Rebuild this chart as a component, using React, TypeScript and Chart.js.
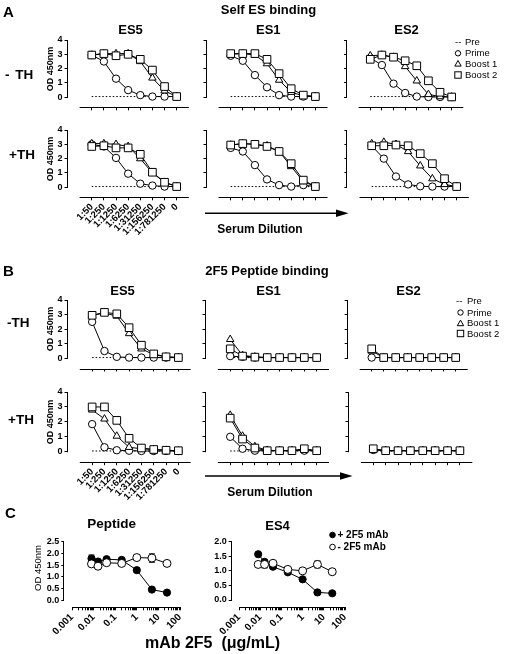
import React, { useEffect, useRef } from 'react';
import { Chart, registerables } from 'chart.js';

Chart.register(...registerables);

const FONT = '"Liberation Sans", Arial, Helvetica, sans-serif';
Chart.defaults.font.family = FONT;
Chart.defaults.color = '#000';

// ---------- Panels A & B : serum dilution series ----------
const dilutionLabels = ['1:50', '1:250', '1:1250', '1:6250', '1:31250', '1:156250', '1:781250', '0'];
const dilutionSteps = [0, 1, 2, 3, 4, 5, 6, 7];
const odTicks = [0, 1, 2, 3, 4];

const prePre = [0.05, 0.05, 0.05, 0.05, 0.05, 0.05, 0.05, 0.05];

// A: Self ES binding, -TH
const aNoTH_ES5_prime = [2.95, 2.5, 1.3, 0.5, 0.15, 0.05, 0.05, 0.05];
const aNoTH_ES5_boost1 = [2.95, 3.05, 3.05, 3.05, 2.5, 1.35, 0.45, 0.05];
const aNoTH_ES5_boost2 = [2.95, 3.05, 2.9, 3.0, 2.65, 1.9, 0.75, 0.05];
const aNoTH_ES1_prime = [2.9, 2.55, 1.55, 0.7, 0.15, 0.05, 0.05, 0.05];
const aNoTH_ES1_boost1 = [3.0, 3.05, 2.95, 2.35, 1.2, 0.35, 0.1, 0.05];
const aNoTH_ES1_boost2 = [3.05, 3.05, 3.05, 2.65, 1.65, 0.6, 0.15, 0.05];
const aNoTH_ES2_prime = [2.75, 2.25, 0.95, 0.3, 0.05, 0.02, 0.02, 0.02];
const aNoTH_ES2_boost1 = [2.9, 2.95, 2.8, 2.15, 1.15, 0.2, 0.05, 0.02];
const aNoTH_ES2_boost2 = [2.65, 2.95, 2.8, 2.55, 2.2, 1.15, 0.35, 0.02];

// A: Self ES binding, +TH
const aTH_ES5_prime = [3.0, 2.85, 2.05, 0.95, 0.25, 0.12, 0.05, 0.05];
const aTH_ES5_boost1 = [3.05, 3.05, 3.0, 2.85, 2.0, 1.0, 0.35, 0.05];
const aTH_ES5_boost2 = [2.85, 2.9, 2.75, 2.75, 2.3, 1.05, 0.35, 0.05];
const aTH_ES1_prime = [2.75, 2.5, 1.55, 0.55, 0.15, 0.05, 0.15, 0.05];
const aTH_ES1_boost1 = [2.95, 3.05, 3.0, 2.9, 2.5, 1.45, 0.4, 0.05];
const aTH_ES1_boost2 = [2.95, 3.05, 3.0, 2.85, 2.5, 1.65, 0.5, 0.05];
const aTH_ES2_prime = [2.9, 2.0, 0.75, 0.2, 0.07, 0.05, 0.05, 0.05];
const aTH_ES2_boost1 = [3.05, 3.15, 3.0, 2.5, 1.5, 0.6, 0.2, 0.05];
const aTH_ES2_boost2 = [2.9, 2.9, 2.95, 2.9, 2.35, 1.65, 0.6, 0.05];

// B: 2F5 peptide binding, -TH
const bNoTH_ES5_prime = [2.5, 0.5, 0.1, 0.05, 0.05, 0.05, 0.05, 0.05];
const bNoTH_ES5_boost1 = [2.95, 3.1, 2.9, 1.7, 0.65, 0.25, 0.1, 0.05];
const bNoTH_ES5_boost2 = [2.95, 3.15, 3.05, 2.1, 0.9, 0.3, 0.1, 0.05];
const bNoTH_ES1_prime = [0.15, 0.1, 0.05, 0.05, 0.05, 0.05, 0.05, 0.05];
const bNoTH_ES1_boost1 = [1.3, 0.2, 0.1, 0.05, 0.05, 0.05, 0.05, 0.05];
const bNoTH_ES1_boost2 = [0.65, 0.15, 0.08, 0.05, 0.05, 0.05, 0.05, 0.05];
const bNoTH_ES2_prime = [0.05, 0.05, 0.05, 0.05, 0.05, 0.05, 0.05, 0.05];
const bNoTH_ES2_boost1 = [0.5, 0.05, 0.05, 0.05, 0.05, 0.05, 0.05, 0.05];
const bNoTH_ES2_boost2 = [0.65, 0.05, 0.05, 0.05, 0.05, 0.05, 0.05, 0.05];

// B: 2F5 peptide binding, +TH
const bTH_ES5_prime = [1.85, 0.3, 0.1, 0.07, 0.05, 0.05, 0.05, 0.05];
const bTH_ES5_boost1 = [2.8, 2.2, 1.05, 0.3, 0.2, 0.15, 0.1, 0.05];
const bTH_ES5_boost2 = [3.0, 3.0, 2.1, 0.9, 0.25, 0.15, 0.1, 0.07];
const bTH_ES1_prime = [1.0, 0.2, 0.07, 0.07, 0.07, 0.07, 0.07, 0.07];
const bTH_ES1_boost1 = [2.45, 1.05, 0.35, 0.1, 0.07, 0.07, 0.15, 0.07];
const bTH_ES1_boost2 = [2.25, 0.85, 0.25, 0.07, 0.07, 0.07, 0.2, 0.07];
const bTH_ES2_prime = [0.12, 0.07, 0.07, 0.07, 0.07, 0.07, 0.07, 0.07];
const bTH_ES2_boost1 = [0.15, 0.07, 0.07, 0.07, 0.07, 0.07, 0.07, 0.07];
const bTH_ES2_boost2 = [0.2, 0.07, 0.07, 0.07, 0.07, 0.07, 0.07, 0.07];

// ---------- Panel C : mAb 2F5 competition ----------
const mabConc = [0.008, 0.016, 0.04, 0.2, 1, 5, 25];
const logMajor = [0.001, 0.01, 0.1, 1, 10, 100];
const logMinorMult = [2, 3, 4, 5, 6, 7, 8, 9];
const pepPlus = [1.78, 1.65, 1.75, 1.72, 1.28, 0.45, 0.32];
const pepPlusErr = [0.15, 0.1, 0.06, 0.06, 0.1, 0.05, 0.04];
const pepMinus = [1.55, 1.45, 1.6, 1.57, 1.82, 1.8, 1.57];
const pepMinusErr = [0.08, 0.06, 0.05, 0.05, 0.06, 0.18, 0.05];
const es4Plus = [1.57, 1.31, 1.14, 0.95, 0.71, 0.26, 0.23];
const es4PlusErr = [0.05, 0.06, 0.04, 0.03, 0.04, 0.03, 0.02];
const es4Minus = [1.22, 1.22, 1.26, 1.05, 1.0, 1.22, 0.97];
const es4MinusErr = [0.06, 0.12, 0.06, 0.05, 0.04, 0.12, 0.05];
const pepTicks = [0, 0.5, 1, 1.5, 2, 2.5];
const es4Ticks = [0, 0.5, 1, 1.5, 2];

type Geo = { l: number; r: number; t: number; b: number };

function axesPlugin(xFrom: number, xTo: number, yFrom: number, yTo: number) {
  return {
    id: 'offsetAxes',
    beforeDatasetsDraw(chart: any) {
      const { ctx, chartArea, scales } = chart;
      const xs = scales.x;
      const ys = scales.y;
      ctx.save();
      ctx.strokeStyle = '#000';
      ctx.lineWidth = 1;
      const lx = Math.round(chartArea.left) - 0.5;
      ctx.beginPath();
      ctx.moveTo(lx, ys.getPixelForValue(yTo));
      ctx.lineTo(lx, ys.getPixelForValue(yFrom) + 0.5);
      ctx.stroke();
      const by = Math.round(chartArea.bottom) + 0.5;
      ctx.beginPath();
      ctx.moveTo(xs.getPixelForValue(xFrom), by);
      ctx.lineTo(xs.getPixelForValue(xTo), by);
      ctx.stroke();
      ctx.restore();
    },
  };
}

function errorPlugin(errs: (number[] | null)[]) {
  return {
    id: 'errBars',
    beforeDatasetsDraw(chart: any) {
      const { ctx } = chart;
      const ys = chart.scales.y;
      ctx.save();
      ctx.strokeStyle = '#000';
      ctx.lineWidth = 1;
      chart.data.datasets.forEach((ds: any, di: number) => {
        const e = errs[di];
        if (!e) return;
        const meta = chart.getDatasetMeta(di);
        meta.data.forEach((pt: any, i: number) => {
          const v = ds.data[i].y;
          const yT = ys.getPixelForValue(v + e[i]);
          const yB = ys.getPixelForValue(v - e[i]);
          const x = pt.x;
          ctx.beginPath();
          ctx.moveTo(x, yT);
          ctx.lineTo(x, yB);
          ctx.moveTo(x - 3, yT);
          ctx.lineTo(x + 3, yT);
          ctx.moveTo(x - 3, yB);
          ctx.lineTo(x + 3, yB);
          ctx.stroke();
        });
      });
      ctx.restore();
    },
  };
}

function canvasBox(geo: Geo) {
  const cl = Math.floor(geo.l) - 45;
  const ct = Math.floor(geo.t) - 12;
  const cr = Math.ceil(geo.r) + 12;
  const cb = Math.ceil(geo.b) + 50;
  return {
    cl, ct, w: cr - cl, h: cb - ct,
    yW: geo.l - cl, padTop: geo.t - ct, padRight: cr - geo.r, xH: cb - geo.b,
  };
}

const gridOpts = {
  display: true,
  drawOnChartArea: false,
  drawTicks: true,
  tickLength: 3,
  color: '#000',
  tickColor: '#000',
  lineWidth: 1,
};

interface DilProps {
  geo: Geo;
  prime: number[];
  boost1: number[];
  boost2: number[];
  pre: number[];
  showY: boolean;
  showX: boolean;
}

function DilutionChart({ geo, prime, boost1, boost2, pre, showY, showX }: DilProps) {
  const ref = useRef<HTMLCanvasElement>(null);
  const box = canvasBox(geo);
  useEffect(() => {
    const pts = (arr: number[]) => arr.map((v, i) => ({ x: dilutionSteps[i], y: v }));
    const base = {
      borderColor: '#000', borderWidth: 1, pointBorderColor: '#000',
      pointBackgroundColor: '#fff', pointBorderWidth: 1, tension: 0, fill: false,
    };
    const chart = new Chart(ref.current as HTMLCanvasElement, {
      type: 'line',
      data: {
        datasets: [
          { ...base, label: 'Boost 2', data: pts(boost2), pointStyle: 'rect', pointRadius: 5.4 },
          { ...base, label: 'Boost 1', data: pts(boost1), pointStyle: 'triangle', pointRadius: 4.3 },
          { ...base, label: 'Prime', data: pts(prime), pointStyle: 'circle', pointRadius: 3.7 },
          { ...base, label: 'Pre', data: pts(pre), pointRadius: 0, borderDash: [1.5, 2] },
        ],
      } as any,
      options: {
        responsive: false,
        animation: false,
        events: [],
        layout: { padding: { left: 0, top: box.padTop, right: box.padRight, bottom: 0 } },
        plugins: { legend: { display: false }, tooltip: { enabled: false } },
        scales: {
          x: {
            type: 'linear', min: -2, max: 8,
            border: { display: false },
            grid: gridOpts,
            ticks: {
              display: showX, autoSkip: false, minRotation: 45, maxRotation: 45, padding: 1,
              font: { size: 9.5, weight: 'bold', family: FONT }, color: '#000',
              callback: (v: any) => dilutionLabels[v] ?? '',
            },
            afterBuildTicks: (s: any) => { s.ticks = dilutionSteps.map((v) => ({ value: v })); },
            afterFit: (s: any) => { s.height = box.xH; },
          },
          y: {
            type: 'linear', min: -0.7, max: 4,
            border: { display: false },
            grid: gridOpts,
            ticks: {
              display: showY, padding: 2, autoSkip: false,
              font: { size: 9, weight: 'bold', family: FONT }, color: '#000',
              callback: (v: any) => String(v),
            },
            afterBuildTicks: (s: any) => { s.ticks = odTicks.map((v) => ({ value: v })); },
            afterFit: (s: any) => { s.width = box.yW; },
          },
        },
      } as any,
      plugins: [axesPlugin(-1, 8, 0, 4)],
    });
    return () => chart.destroy();
  }, []);
  return (
    <canvas
      ref={ref}
      width={box.w}
      height={box.h}
      style={{ position: 'absolute', left: box.cl, top: box.ct, width: box.w, height: box.h }}
    />
  );
}

interface DoseProps {
  geo: Geo;
  plus: number[];
  plusErr: number[];
  minus: number[];
  minusErr: number[];
  yMin: number;
  yMax: number;
  yTicks: number[];
  xMin: number;
}

function DoseChart({ geo, plus, plusErr, minus, minusErr, yMin, yMax, yTicks, xMin }: DoseProps) {
  const ref = useRef<HTMLCanvasElement>(null);
  const box = canvasBox(geo);
  useEffect(() => {
    const pts = (arr: number[]) => arr.map((v, i) => ({ x: mabConc[i], y: v }));
    const xTicks: number[] = [];
    logMajor.forEach((d, i) => {
      xTicks.push(d);
      if (i < logMajor.length - 1) logMinorMult.forEach((m) => xTicks.push(m * d));
    });
    const base = { borderColor: '#000', borderWidth: 1, pointBorderColor: '#000', pointBorderWidth: 1, tension: 0, fill: false };
    const chart = new Chart(ref.current as HTMLCanvasElement, {
      type: 'line',
      data: {
        datasets: [
          { ...base, label: '- 2F5 mAb', data: pts(minus), pointStyle: 'circle', pointRadius: 4, pointBackgroundColor: '#fff' },
          { ...base, label: '+ 2F5 mAb', data: pts(plus), pointStyle: 'circle', pointRadius: 3.6, pointBackgroundColor: '#000' },
        ],
      } as any,
      options: {
        responsive: false,
        animation: false,
        events: [],
        layout: { padding: { left: 0, top: box.padTop, right: box.padRight, bottom: 0 } },
        plugins: { legend: { display: false }, tooltip: { enabled: false } },
        scales: {
          x: {
            type: 'logarithmic', min: xMin, max: 100,
            border: { display: false },
            grid: gridOpts,
            ticks: {
              autoSkip: false, minRotation: 45, maxRotation: 45, padding: 1,
              font: { size: 10, weight: 'bold', family: FONT }, color: '#000',
              callback: (v: any) => (logMajor.includes(v) ? String(v) : ''),
            },
            afterBuildTicks: (s: any) => { s.ticks = xTicks.map((v) => ({ value: v })); },
            afterFit: (s: any) => { s.height = box.xH; },
          },
          y: {
            type: 'linear', min: yMin, max: yMax,
            border: { display: false },
            grid: gridOpts,
            ticks: {
              padding: 2, autoSkip: false,
              font: { size: 9, weight: 'bold', family: FONT }, color: '#000',
              callback: (v: any) => Number(v).toFixed(1),
            },
            afterBuildTicks: (s: any) => { s.ticks = yTicks.map((v) => ({ value: v })); },
            afterFit: (s: any) => { s.width = box.yW; },
          },
        },
      } as any,
      plugins: [axesPlugin(0.001, 100, 0, yMax), errorPlugin([minusErr, plusErr])],
    });
    return () => chart.destroy();
  }, []);
  return (
    <canvas
      ref={ref}
      width={box.w}
      height={box.h}
      style={{ position: 'absolute', left: box.cl, top: box.ct, width: box.w, height: box.h }}
    />
  );
}

function T({ x, y, s, w = 700, a = 'c', r = false, ws, children }: any) {
  let transform = a === 'c' ? 'translate(-50%,-50%)' : 'translate(0,-50%)';
  if (r) transform = 'translate(-50%,-50%) rotate(-90deg)';
  return (
    <div
      style={{
        position: 'absolute', left: x, top: y, fontFamily: FONT, fontSize: s, fontWeight: w,
        lineHeight: 1, whiteSpace: 'nowrap', transform, color: '#000', wordSpacing: ws,
      }}
    >
      {children}
    </div>
  );
}

function LegendSymbols({ cx, ys }: { cx: number; ys: number[] }) {
  const [yc, yt, yr] = ys;
  return (
    <g fill="#fff" stroke="#000" strokeWidth={1}>
      <circle cx={cx} cy={yc} r={2.7} />
      <polygon points={`${cx},${yt - 3.2} ${cx + 3.2},${yt + 2.4} ${cx - 3.2},${yt + 2.4}`} />
      <rect x={cx - 3.2} y={yr - 3.2} width={6.4} height={6.4} />
    </g>
  );
}

export default function App() {
  const A1 = { t: 40, b: 107.3 };
  const A2 = { t: 130, b: 197.3 };
  const B1 = { t: 300, b: 368.5 };
  const B2 = { t: 392, b: 462.2 };
  return (
    <div style={{ position: 'absolute', left: 0, top: 0, width: 505, height: 654, background: '#fff', overflow: 'hidden' }}>
      {/* Panel A */}
      <DilutionChart geo={{ ...A1, l: 67.5, r: 188.8 }} prime={aNoTH_ES5_prime} boost1={aNoTH_ES5_boost1} boost2={aNoTH_ES5_boost2} pre={prePre} showY showX={false} />
      <DilutionChart geo={{ ...A1, l: 206.5, r: 327.5 }} prime={aNoTH_ES1_prime} boost1={aNoTH_ES1_boost1} boost2={aNoTH_ES1_boost2} pre={prePre} showY={false} showX={false} />
      <DilutionChart geo={{ ...A1, l: 347, r: 463.3 }} prime={aNoTH_ES2_prime} boost1={aNoTH_ES2_boost1} boost2={aNoTH_ES2_boost2} pre={prePre} showY={false} showX={false} />
      <DilutionChart geo={{ ...A2, l: 67.5, r: 188.8 }} prime={aTH_ES5_prime} boost1={aTH_ES5_boost1} boost2={aTH_ES5_boost2} pre={prePre} showY showX />
      <DilutionChart geo={{ ...A2, l: 206.5, r: 327.5 }} prime={aTH_ES1_prime} boost1={aTH_ES1_boost1} boost2={aTH_ES1_boost2} pre={prePre} showY={false} showX={false} />
      <DilutionChart geo={{ ...A2, l: 347.4, r: 468.8 }} prime={aTH_ES2_prime} boost1={aTH_ES2_boost1} boost2={aTH_ES2_boost2} pre={prePre} showY={false} showX={false} />
      {/* Panel B */}
      <DilutionChart geo={{ ...B1, l: 67.5, r: 190.7 }} prime={bNoTH_ES5_prime} boost1={bNoTH_ES5_boost1} boost2={bNoTH_ES5_boost2} pre={prePre} showY showX={false} />
      <DilutionChart geo={{ ...B1, l: 205.5, r: 329 }} prime={bNoTH_ES1_prime} boost1={bNoTH_ES1_boost1} boost2={bNoTH_ES1_boost2} pre={prePre} showY={false} showX={false} />
      <DilutionChart geo={{ ...B1, l: 347.7, r: 467.7 }} prime={bNoTH_ES2_prime} boost1={bNoTH_ES2_boost1} boost2={bNoTH_ES2_boost2} pre={prePre} showY={false} showX={false} />
      <DilutionChart geo={{ ...B2, l: 67.5, r: 190.7 }} prime={bTH_ES5_prime} boost1={bTH_ES5_boost1} boost2={bTH_ES5_boost2} pre={prePre} showY showX />
      <DilutionChart geo={{ ...B2, l: 205.5, r: 329 }} prime={bTH_ES1_prime} boost1={bTH_ES1_boost1} boost2={bTH_ES1_boost2} pre={prePre} showY={false} showX={false} />
      <DilutionChart geo={{ ...B2, l: 348.5, r: 472.3 }} prime={bTH_ES2_prime} boost1={bTH_ES2_boost1} boost2={bTH_ES2_boost2} pre={prePre} showY={false} showX={false} />
      {/* Panel C */}
      <DoseChart geo={{ l: 64.3, r: 180, t: 541.7, b: 607.3 }} plus={pepPlus} plusErr={pepPlusErr} minus={pepMinus} minusErr={pepMinusErr} yMin={-0.31} yMax={2.5} yTicks={pepTicks} xMin={0.00044} />
      <DoseChart geo={{ l: 231.7, r: 345, t: 541.7, b: 607.3 }} plus={es4Plus} plusErr={es4PlusErr} minus={es4Minus} minusErr={es4MinusErr} yMin={-0.25} yMax={2.0} yTicks={es4Ticks} xMin={0.00045} />

      {/* graphics: arrows and legend symbols */}
      <svg width={505} height={654} style={{ position: 'absolute', left: 0, top: 0, pointerEvents: 'none' }}>
        <line x1={205} y1={213.3} x2={338} y2={213.3} stroke="#000" strokeWidth={1.6} />
        <polygon points="336,209.5 348.5,213.3 336,217.1" fill="#000" />
        <line x1={205} y1={476} x2={342} y2={476} stroke="#000" strokeWidth={1.6} />
        <polygon points="340,472.2 352.5,476 340,479.8" fill="#000" />
        <LegendSymbols cx={458} ys={[53.3, 63.7, 75]} />
        <LegendSymbols cx={460.5} ys={[312.5, 323.3, 333.5]} />
        <circle cx={332.5} cy={535} r={2.8} fill="#000" stroke="#000" />
        <circle cx={332.5} cy={547} r={2.8} fill="#fff" stroke="#000" />
      </svg>

      {/* Panel A text */}
      <T x={3} y={10.5} s={15} a="l">A</T>
      <T x={268.5} y={9} s={13}>Self ES binding</T>
      <T x={130.5} y={29} s={13}>ES5</T>
      <T x={268.3} y={29} s={13}>ES1</T>
      <T x={406.5} y={29} s={13}>ES2</T>
      <T x={5} y={75} s={13.5} a="l" ws={2}>- TH</T>
      <T x={9} y={155} s={13.5} a="l">+TH</T>
      <T x={49.5} y={68.5} s={9} r>OD 450nm</T>
      <T x={49.5} y={158.5} s={9} r>OD 450nm</T>
      <T x={455} y={42.3} s={9.5} w={400} a="l">--</T>
      <T x={465} y={42.3} s={9.5} w={400} a="l">Pre</T>
      <T x={465} y={53.3} s={9.5} w={400} a="l">Prime</T>
      <T x={465} y={63.7} s={9.5} w={400} a="l">Boost 1</T>
      <T x={465} y={75} s={9.5} w={400} a="l">Boost 2</T>
      <T x={260} y={229} s={12}>Serum Dilution</T>

      {/* Panel B text */}
      <T x={3} y={270} s={15} a="l">B</T>
      <T x={267} y={270} s={13}>2F5 Peptide binding</T>
      <T x={122.5} y={290} s={13}>ES5</T>
      <T x={268.5} y={290} s={13}>ES1</T>
      <T x={408.5} y={290} s={13}>ES2</T>
      <T x={7} y={323} s={13.5} a="l">-TH</T>
      <T x={8} y={420} s={13.5} a="l">+TH</T>
      <T x={49.5} y={329} s={9} r>OD 450nm</T>
      <T x={49.5} y={422} s={9} r>OD 450nm</T>
      <T x={456} y={300.7} s={9.5} w={400} a="l">--</T>
      <T x={467} y={300.7} s={9.5} w={400} a="l">Pre</T>
      <T x={467} y={312.5} s={9.5} w={400} a="l">Prime</T>
      <T x={467} y={323.3} s={9.5} w={400} a="l">Boost 1</T>
      <T x={467} y={333.5} s={9.5} w={400} a="l">Boost 2</T>
      <T x={270} y={492.3} s={12}>Serum Dilution</T>

      {/* Panel C text */}
      <T x={5} y={511.7} s={15} a="l">C</T>
      <T x={111.7} y={524} s={13.5}>Peptide</T>
      <T x={277.5} y={525} s={13}>ES4</T>
      <T x={337.5} y={535} s={10} a="l">+ 2F5 mAb</T>
      <T x={337.5} y={547} s={10} a="l">- 2F5 mAb</T>
      <T x={37.5} y={567.5} s={9.5} w={400} r>OD 450nm</T>
      <T x={212.5} y={643} s={16}>mAb 2F5&nbsp;&nbsp;(μg/mL)</T>
    </div>
  );
}
